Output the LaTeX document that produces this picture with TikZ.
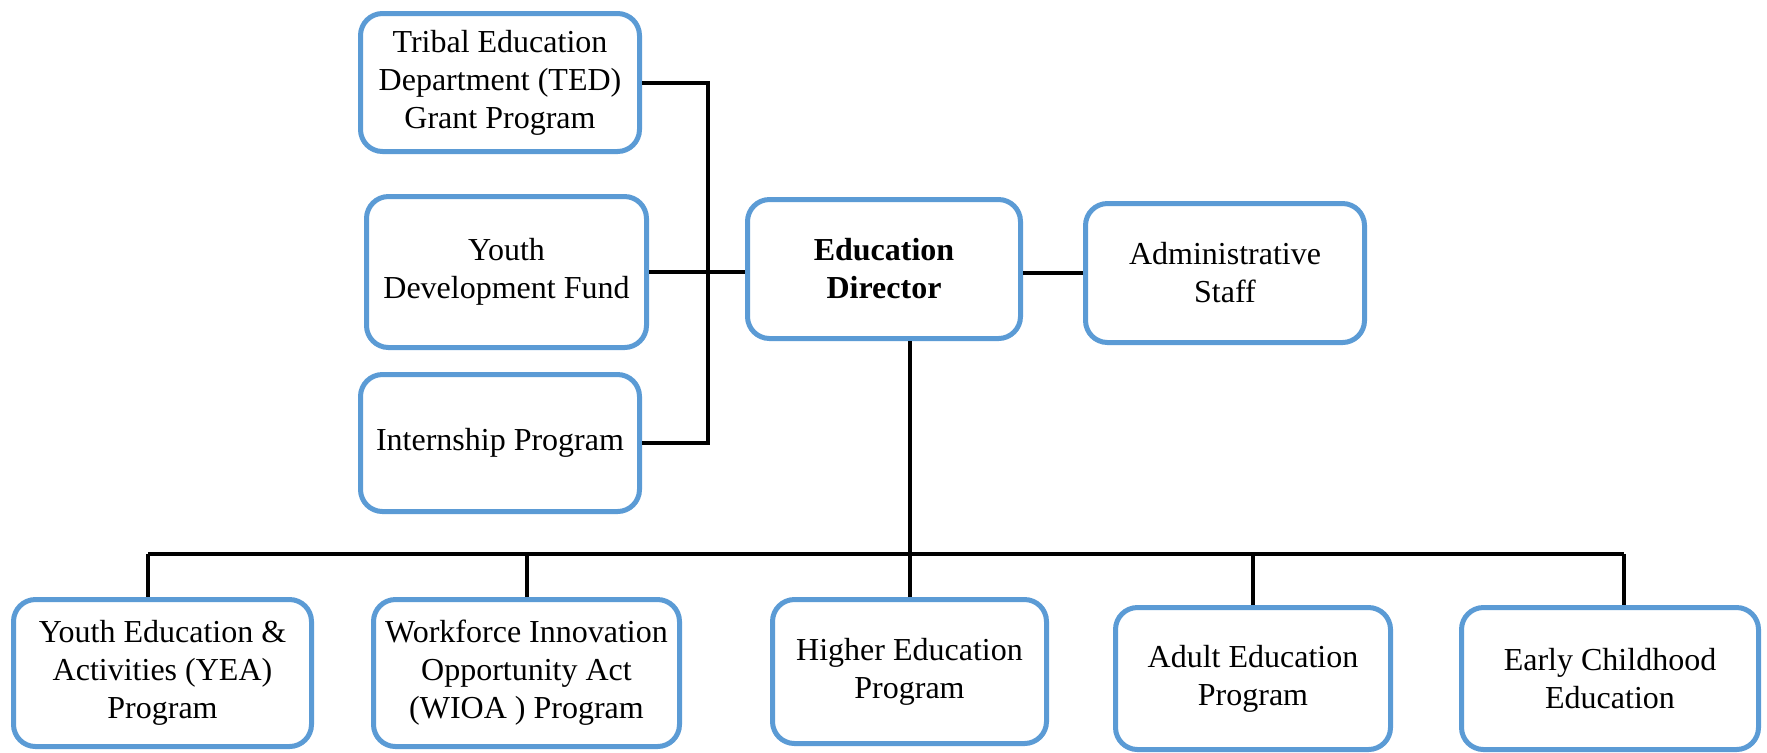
\documentclass[tikz,border=0pt]{standalone}
\usepackage{fontspec}
\setmainfont{Liberation Serif}
\usetikzlibrary{positioning}
\definecolor{boxblue}{RGB}{91,155,213}

\begin{document}
\begin{tikzpicture}[x=0.5pt,y=-0.5pt,
  unit/.style={draw=boxblue,line width=2.5pt,rounded corners=11pt,fill=white,
    align=center,inner sep=2pt,font=\fontsize{16}{19}\selectfont},
  link/.style={line width=2pt,black}]

\useasboundingbox (0,0) rectangle (1767,752);

% left column
\node[unit,minimum width=139.5pt,minimum height=69pt] (ted) at (500,82.5)
  {Tribal Education\\Department (TED)\\Grant Program};
\node[unit,minimum width=140pt,minimum height=75.5pt] (ydf) at (506.5,272)
  {Youth\\Development Fund};
\node[unit,minimum width=139.5pt,minimum height=68.5pt] (intern) at (500,443)
  {Internship Program};

% director and staff
\node[unit,minimum width=136.5pt,minimum height=69.5pt] (ed) at (884,269)
  {\bfseries Education\\\bfseries Director};
\node[unit,minimum width=139.5pt,minimum height=69.5pt] (admin) at (1225,273)
  {Administrative\\Staff};

% programs
\node[unit,minimum width=149pt,minimum height=73.5pt] (yea) at (162.5,673)
  {Youth Education \&\\Activities (YEA)\\Program};
\node[unit,minimum width=153pt,minimum height=73.5pt] (wioa) at (526.5,673)
  {Workforce Innovation\\Opportunity Act\\(WIOA ) Program};
\node[unit,minimum width=137pt,minimum height=72pt] (higher) at (909.5,671.5)
  {Higher Education\\Program};
\node[unit,minimum width=137.5pt,minimum height=71pt] (adult) at (1253,678.5)
  {Adult Education\\Program};
\node[unit,minimum width=148.5pt,minimum height=71pt] (early) at (1610,678.5)
  {Early Childhood\\Education};

% connectors
\draw[link] (ted.east) -- ++(66,0) coordinate (spine) |- (intern.east);
\draw[link] (ydf.east) -- (ydf.east -| ed.west);
\draw[link] (admin.west) -- (admin.west -| ed.east);

\coordinate (busl) at (148,554);
\coordinate (busr) at (1624,554);
\draw[link] (busl) -- (busr);
\draw[link] (higher.north) -- (higher.north |- ed.south);
\draw[link] (busl) -- (busl |- yea.north);
\draw[link] (wioa.north) -- (wioa.north |- busl);
\draw[link] (adult.north) -- (adult.north |- busl);
\draw[link] (busr) -- (busr |- early.north);
\end{tikzpicture}
\end{document}
